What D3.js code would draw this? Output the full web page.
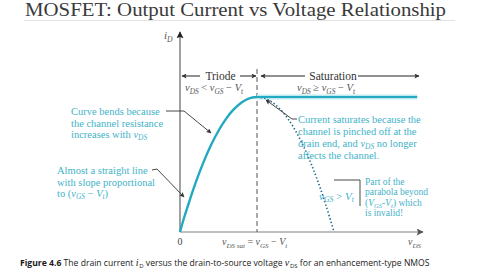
<!DOCTYPE html>
<html><head><meta charset="utf-8">
<script src="https://cdn.jsdelivr.net/npm/d3@7"></script>
<style>
html,body{margin:0;padding:0;background:#fff;}
svg{display:block;}
</style></head>
<body>
<svg id="c" width="480" height="270"></svg>
<script>
// ---- data (normalised: v_DS in units of v_DS,sat ; i_D in units of i_D,sat) ----
const triodeV = [0, 0.05, 0.1, 0.2, 0.3, 0.4, 0.5, 0.6, 0.7, 0.8, 0.9, 1.0];
const triodeI = [0, 0.10, 0.19, 0.36, 0.51, 0.64, 0.75, 0.84, 0.91, 0.96, 0.99, 1.0];
const satV = [1.0, 3.08];
const satI = [1.0, 1.0];
const invalidV = [1.0, 1.1, 1.2, 1.3, 1.4, 1.5, 1.6, 1.7, 1.8, 1.9, 2.0];
const invalidI = [1.0, 0.99, 0.96, 0.91, 0.84, 0.75, 0.64, 0.51, 0.36, 0.19, 0];
const xTickV = [0, 1];
const title = "MOSFET: Output Current vs Voltage Relationship";

const svg = d3.select("#c");
const x = d3.scaleLinear().domain([0, 1]).range([180, 257]);
const y = d3.scaleLinear().domain([0, 1]).range([232, 97]);
const teal = "#22a9c1", textTeal = "#3fb2c8", dark = "#333";
const serif = "'Liberation Serif','Times New Roman',serif";
const sans = "'Open Sans','Noto Sans',sans-serif";

// title
svg.append("text").attr("x", 25).attr("y", 16)
  .attr("font-family", serif).attr("font-size", 18).attr("fill", "#3a3a3a")
  .attr("textLength", 421).attr("lengthAdjust", "spacingAndGlyphs").text(title);
svg.append("line").attr("x1", 24).attr("x2", 455).attr("y1", 20.5).attr("y2", 20.5)
  .attr("stroke", "#e2e2e2").attr("stroke-width", 1);

// arrow marker
const defs = svg.append("defs");
function marker(id, color, w, h) {
  defs.append("marker").attr("id", id).attr("viewBox", "0 0 10 10").attr("refX", 9).attr("refY", 5)
    .attr("markerWidth", w).attr("markerHeight", h).attr("markerUnits", "userSpaceOnUse").attr("orient", "auto")
    .append("path").attr("d", "M0,0L10,5L0,10L2,5Z").attr("fill", color);
}
marker("ax", "#222", 10, 7);
marker("ax2", "#555", 10, 7);
marker("pt", "#333", 7, 5);

// axes
svg.append("line").attr("x1", x(0)).attr("x2", x(0)).attr("y1", y(0)).attr("y2", 32)
  .attr("stroke", "#444").attr("stroke-width", 1).attr("marker-end", "url(#ax)");
svg.append("line").attr("x1", x(0)).attr("x2", 423).attr("y1", y(0)).attr("y2", y(0))
  .attr("stroke", "#a8a8a8").attr("stroke-width", 1.3).attr("marker-end", "url(#ax2)");

// math text helper
function mtext(sel, parts, size, color) {
  parts.forEach(p => {
    const t = sel.append("tspan").text(p[0]);
    if (p[1] === "i") t.attr("font-style", "italic");
    if (p[1] === "sub") t.attr("font-style", "italic").attr("font-size", size * 0.7).attr("dy", 2.5).attr("data-sub", 1);
  });
  const nodes = sel.selectAll("tspan").nodes();
  for (let k = 1; k < nodes.length; k++) {
    const prevSub = nodes[k - 1].getAttribute("data-sub");
    const curSub = nodes[k].getAttribute("data-sub");
    if (prevSub && !curSub) d3.select(nodes[k]).attr("dy", -2.5);
  }
  sel.attr("font-size", size).attr("fill", color).attr("font-family", serif);
  return sel;
}

// axis labels
mtext(svg.append("text").attr("x", 164).attr("y", 39), [["i", "i"], ["D", "sub"]], 11, "#555");
svg.append("text").attr("x", x(xTickV[0])).attr("y", 245).attr("text-anchor", "middle")
  .attr("font-family", serif).attr("font-size", 10).attr("fill", "#444").text("0");
mtext(svg.append("text").attr("x", x(xTickV[1]) - 35).attr("y", 245),
  [["v", "i"], ["DS sat", "sub"], [" =  "], ["v", "i"], ["GS", "sub"], [" − "], ["V", "i"], ["t", "sub"]], 10, "#555");
mtext(svg.append("text").attr("x", 408).attr("y", 245), [["v", "i"], ["DS", "sub"]], 10, "#555");

// dashed boundary
svg.append("line").attr("x1", x(1)).attr("x2", x(1)).attr("y1", 69).attr("y2", y(0))
  .attr("stroke", "#555").attr("stroke-width", 1).attr("stroke-dasharray", "5,3");

// region arrows
function harrow(x1, x2, yy) {
  svg.append("line").attr("x1", x1).attr("x2", x2).attr("y1", yy).attr("y2", yy)
    .attr("stroke", "#222").attr("stroke-width", 1).attr("marker-end", "url(#pt)");
}
const ay = 76;
harrow(200, 182, ay); harrow(240, 256, ay);
harrow(305, 261, ay); harrow(358, 419, ay);
svg.append("text").attr("x", 220.5).attr("y", 80).attr("text-anchor", "middle")
  .attr("font-family", serif).attr("font-size", 11.5).attr("fill", dark).text("Triode");
svg.append("text").attr("x", 333).attr("y", 80).attr("text-anchor", "middle")
  .attr("font-family", serif).attr("font-size", 11.5).attr("fill", dark).text("Saturation");
mtext(svg.append("text").attr("x", 185).attr("y", 91),
  [["v", "i"], ["DS", "sub"], [" < "], ["v", "i"], ["GS", "sub"], [" − "], ["V", "i"], ["t", "sub"]], 10.5, "#555");
mtext(svg.append("text").attr("x", 297).attr("y", 91),
  [["v", "i"], ["DS", "sub"], [" ≥ "], ["v", "i"], ["GS", "sub"], [" − "], ["V", "i"], ["t", "sub"]], 10.5, "#555");

// curves
const line = d3.line().x(d => x(d[0])).y(d => y(d[1])).curve(d3.curveCatmullRom);
const tri = triodeV.map((v, k) => [v, triodeI[k]]);
const sat = satV.map((v, k) => [v, satI[k]]);
const inv = invalidV.map((v, k) => [v, invalidI[k]]);
svg.append("path").attr("d", line(sat)).attr("fill", "none").attr("stroke", "#bfe9f0").attr("stroke-width", 5);
svg.append("path").attr("d", line(inv)).attr("fill", "none").attr("stroke", "#1d6788")
  .attr("stroke-width", 1.6).attr("stroke-dasharray", "1.4,2.2");
svg.append("path").attr("d", line(tri)).attr("fill", "none").attr("stroke", teal).attr("stroke-width", 2.4);
svg.append("path").attr("d", line(sat)).attr("fill", "none").attr("stroke", teal).attr("stroke-width", 2.2);

// annotation text
function lines(x0, y0, dy, arr, size) {
  const t = svg.append("text").attr("font-family", serif).attr("font-size", size).attr("fill", textTeal);
  arr.forEach((ln, k) => {
    const row = t.append("tspan").attr("x", x0).attr("y", y0 + k * dy);
    ln.forEach(p => {
      const s = row.append("tspan").text(p[0]);
      if (p[1] === "i") s.attr("font-style", "italic");
      if (p[1] === "sub") s.attr("font-style", "italic").attr("font-size", size * 0.7).attr("baseline-shift", "-25%");
    });
  });
}
lines(71, 115, 11.5, [[["Curve bends because"]], [["the channel resistance"]], [["increases with "], ["v", "i"], ["DS", "sub"]]], 10.5);
lines(57, 174, 11.5, [[["Almost a straight line"]], [["with slope proportional"]], [["to ("], ["v", "i"], ["GS", "sub"], [" − "], ["V", "i"], ["t", "sub"], [")"]]], 10.5);
lines(298, 123, 12, [[["Current saturates because the"]], [["channel is pinched off at the"]], [["drain end, and "], ["v", "i"], ["DS", "sub"], [" no longer"]], [["affects the channel."]]], 10.5);
lines(319, 200, 12, [[["v", "i"], ["GS", "sub"], [" > "], ["V", "i"], ["t", "sub"]]], 11);
lines(365, 185, 10.3, [[["Part of the"]], [["parabola beyond"]], [["("], ["V", "i"], ["GS", "sub"], ["-"], ["V", "i"], ["t", "sub"], [") which"]], [["is invalid!"]]], 9.5);

// pointer lines
function pointer(pts, arrow) {
  const p = svg.append("path").attr("d", d3.line()(pts)).attr("fill", "none")
    .attr("stroke", "#333").attr("stroke-width", 0.9);
  if (arrow) p.attr("marker-end", "url(#pt)");
}
pointer([[166, 111], [184, 111], [211, 133]], true);
pointer([[152, 170], [157, 169], [184, 197]], true);
pointer([[297, 119], [292, 119], [266, 100]], true);
pointer([[334, 180], [360, 180], [360, 206]], false);

// caption: laid out piece by piece
const capParts = [
  ["Figure 4.6", "b"], [" The drain current "], ["i", "i"], ["D", "sub"],
  [" versus the drain-to-source voltage "], ["v", "i"], ["DS", "sub"], [" for an enhancement-type NMOS"]
];
const capSize = 8.6;
let cx = 20;
capParts.forEach(p => {
  const t = svg.append("text").attr("x", cx).attr("y", p[1] === "sub" ? 268 : 266)
    .attr("font-family", p[1] === "i" ? serif : sans)
    .attr("font-size", p[1] === "sub" ? 6 : (p[1] === "i" ? 10 : capSize))
    .attr("font-style", p[1] === "i" ? "italic" : null)
    .attr("font-weight", p[1] === "b" ? "bold" : null)
    .attr("fill", "#1a1a1a").attr("xml:space", "preserve").style("white-space", "pre").text(p[0]);
  cx += t.node().getComputedTextLength() + (p[1] === "i" ? 0.8 : 0);
});
</script>
</body></html>
